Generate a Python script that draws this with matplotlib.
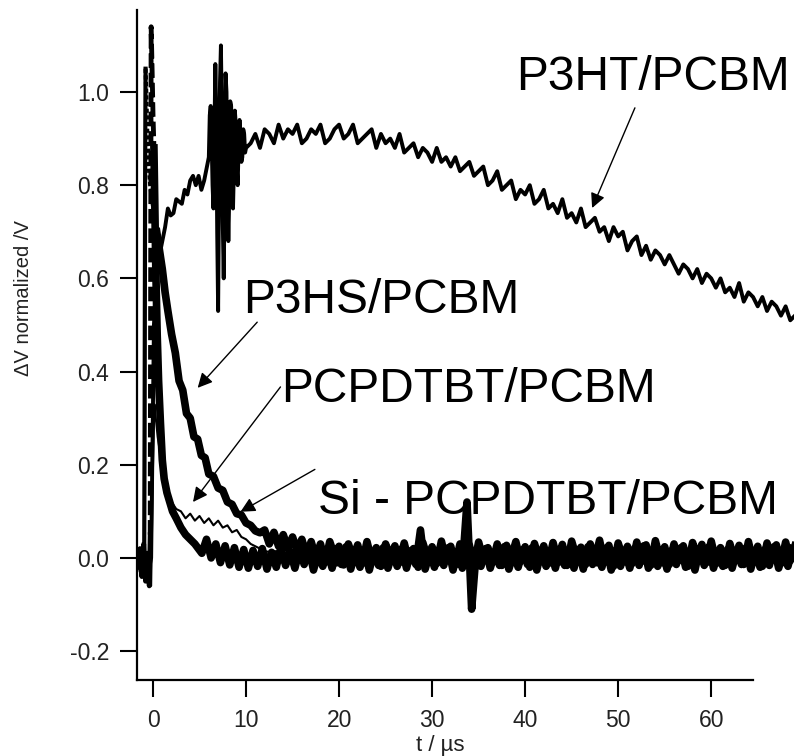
import numpy as np
import matplotlib
matplotlib.use("Agg")
import matplotlib.pyplot as plt

plt.rcParams['font.family'] = ['Liberation Sans', 'DejaVu Sans']

# ---- P3HT/PCBM (solid) ----
t_p3ht_head = [-1.6, -1.0, -0.5, -0.2, 0.1, 0.4, 0.6, 0.8, 1.0, 1.3, 1.6, 1.9, 2.2, 2.5,
               2.8, 3.1, 3.4, 3.7, 4.0, 4.3, 4.6, 4.9, 5.2, 5.5, 5.8]
v_p3ht_head = [0.00, 0.02, -0.03, 0.00, 0.50, 0.62, 0.65, 0.66, 0.68, 0.71, 0.75, 0.735, 0.74, 0.77,
               0.765, 0.76, 0.79, 0.78, 0.81, 0.82, 0.80, 0.82, 0.79, 0.81, 0.84]
# ringing, 6.0 .. 10.0 us in 0.1 steps
v_p3ht_ring = [0.86, 0.95, 0.97, 0.90, 0.80, 0.75, 0.90, 1.06, 0.95, 0.70,
               0.53, 0.80, 1.02, 1.10, 0.95, 0.72, 0.60, 0.78, 1.04, 1.00,
               0.80, 0.68, 0.78, 0.98, 0.97, 0.82, 0.75, 0.84, 0.96, 0.93,
               0.84, 0.80, 0.88, 0.94, 0.90, 0.85, 0.86, 0.92, 0.91, 0.87, 0.88]
# 10.5 .. 69.0 us in 0.5 steps
v_p3ht_tail = [0.89, 0.91, 0.88, 0.92, 0.91, 0.89, 0.93, 0.90, 0.92, 0.91,
               0.93, 0.89, 0.90, 0.92, 0.91, 0.93, 0.89, 0.90, 0.92, 0.93,
               0.90, 0.91, 0.93, 0.89, 0.90, 0.91, 0.92, 0.88, 0.91, 0.89,
               0.90, 0.88, 0.91, 0.87, 0.88, 0.89, 0.86, 0.88, 0.87, 0.85,
               0.88, 0.85, 0.86, 0.84, 0.86, 0.83, 0.84, 0.85, 0.82, 0.83,
               0.84, 0.80, 0.81, 0.83, 0.79, 0.80, 0.81, 0.77, 0.79, 0.78,
               0.80, 0.76, 0.77, 0.79, 0.75, 0.76, 0.74, 0.77, 0.73, 0.74,
               0.72, 0.75, 0.71, 0.72, 0.73, 0.70, 0.71, 0.68, 0.71, 0.69,
               0.70, 0.66, 0.68, 0.69, 0.65, 0.67, 0.64, 0.66, 0.65, 0.63,
               0.65, 0.63, 0.61, 0.63, 0.62, 0.60, 0.62, 0.59, 0.61, 0.60,
               0.58, 0.60, 0.57, 0.58, 0.56, 0.59, 0.55, 0.57, 0.56, 0.54,
               0.56, 0.53, 0.55, 0.54, 0.52, 0.54, 0.51, 0.52]

# ---- P3HS/PCBM (dotted peak) ----
t_p3hs_head = [-1.6, -1.3, -1.1, -0.95, -0.9, -0.85, -0.8, -0.7, -0.6, -0.45, -0.3, -0.1, 0.1,
               0.4, 0.7, 1.0, 1.3, 1.6, 2.0, 2.4, 2.8, 3.2, 3.6, 4.0, 4.4, 4.8, 5.2, 5.6,
               6.0, 6.5, 7.0, 7.5, 8.0, 8.5, 9.0, 9.5, 10.0, 10.5, 11.0, 11.5]
v_p3hs_head = [0.00, -0.03, 0.02, -0.02, 0.30, 0.80, 1.05, 0.98, 0.90, 0.84, 0.80, 0.77, 0.74,
               0.70, 0.66, 0.62, 0.57, 0.53, 0.48, 0.44, 0.38, 0.36, 0.31, 0.30, 0.26, 0.255,
               0.22, 0.215, 0.18, 0.175, 0.15, 0.145, 0.12, 0.115, 0.095, 0.092, 0.075, 0.07,
               0.058, 0.054]
# 12.0 .. 69.0 us in 0.5 steps
v_p3hs_tail = [0.060, 0.030, 0.055, 0.025, 0.050, 0.020, 0.045, 0.015, 0.040, 0.005,
               0.035, 0.000, 0.030, -0.010, 0.035, 0.005, 0.025, -0.015, 0.030, 0.000,
               0.028, -0.012, 0.035, -0.005, 0.022, -0.018, 0.030, 0.002, 0.026, -0.010,
               0.032, -0.008, 0.020, -0.020, 0.033, 0.000, 0.024, -0.012, 0.036, -0.006,
               0.025, -0.015, 0.030, 0.004, 0.028, -0.018, 0.034, -0.004, 0.022, -0.010,
               0.030, -0.016, 0.027, 0.000, 0.035, -0.008, 0.024, -0.020, 0.031, -0.002,
               0.026, -0.012, 0.033, -0.006, 0.029, -0.016, 0.036, 0.002, 0.023, -0.014,
               0.030, -0.004, 0.038, -0.010, 0.027, -0.018, 0.032, 0.000, 0.025, -0.012,
               0.034, -0.008, 0.028, -0.016, 0.037, -0.002, 0.024, -0.014, 0.030, -0.006,
               0.026, -0.018, 0.033, 0.002, 0.029, -0.010, 0.036, -0.006, 0.022, -0.016,
               0.031, -0.004, 0.027, -0.014, 0.035, -0.008, 0.025, -0.018, 0.032, 0.000,
               0.028, -0.012, 0.034, -0.006, 0.026]

# ---- PCPDTBT/PCBM (dashed peak) ----
t_pcp_head = [-1.6, -1.4, -1.2, -1.0, -0.8, -0.6, -0.4, -0.3, -0.2, -0.1, 0.0, 0.1, 0.2, 0.3,
              0.45, 0.6, 0.8, 1.0, 1.2, 1.5, 1.8, 2.1, 2.5, 3.0, 3.5, 4.0, 4.5]
v_pcp_head = [-0.02, 0.02, -0.04, 0.03, -0.05, 0.01, -0.06, 0.05, 1.14, 1.05, 0.95, 0.88, 0.75,
              0.62, 0.48, 0.38, 0.29, 0.21, 0.17, 0.14, 0.12, 0.10, 0.085, 0.065, 0.05, 0.04, 0.03]
# 5.25 .. 68.75 us in 0.5 steps
v_pcp_tail = [0.010, 0.040, 0.000, 0.030, -0.010, 0.026, -0.015, 0.022, -0.020, 0.018,
              -0.022, 0.016, -0.018, 0.020, -0.024, 0.012, -0.020, 0.022, -0.016, 0.014,
              -0.022, 0.018, -0.014, 0.022, -0.026, 0.010, -0.018, 0.016, -0.022, 0.020,
              -0.014, 0.024, -0.024, 0.012, -0.020, 0.018, -0.026, 0.014, -0.016, 0.022,
              -0.022, 0.012, -0.018, 0.020, -0.022, 0.016, -0.014, 0.060, -0.024, 0.012,
              -0.020, 0.018, -0.016, 0.022, -0.026, 0.014, -0.022, 0.120, -0.110, 0.016,
              -0.018, 0.020, -0.022, 0.012, -0.016, 0.024, -0.024, 0.010, -0.020, 0.018,
              -0.014, 0.022, -0.026, 0.016, -0.018, 0.012, -0.022, 0.020, -0.016, 0.014,
              -0.022, 0.018, -0.024, 0.024, -0.014, 0.010, -0.020, 0.022, -0.026, 0.016,
              -0.018, 0.014, -0.022, 0.020, -0.016, 0.026, -0.022, 0.012, -0.018, 0.018,
              -0.024, 0.016, -0.014, 0.022, -0.020, 0.010, -0.026, 0.020, -0.016, 0.024,
              -0.022, 0.012, -0.018, 0.018, -0.022, 0.016, -0.014, 0.022, -0.024, 0.014,
              -0.020, 0.018, -0.016, 0.024, -0.022, 0.012, -0.018, 0.020]

# ---- Si-PCPDTBT/PCBM (thin) ----
t_si = [-1.6, -1.3, -1.0, -0.7, -0.4, -0.2, 0.0, 0.15, 0.3, 0.5, 0.8, 1.1, 1.5, 2.0, 2.5, 3.0,
        3.5, 4.0, 4.5, 5.0, 5.5, 6.0, 6.5, 7.0, 7.5, 8.0, 8.5, 9.0, 9.5, 10.0, 10.5, 11.0,
        12.0, 13.0]
v_si = [0.01, -0.04, 0.02, -0.03, 0.01, -0.06, 0.20, 0.33, 0.30, 0.26, 0.22, 0.18, 0.15, 0.12,
        0.105, 0.10, 0.085, 0.095, 0.08, 0.09, 0.075, 0.085, 0.07, 0.08, 0.065, 0.07, 0.055,
        0.06, 0.045, 0.04, 0.03, 0.025, 0.015, 0.01]
# 13.75 .. 68.75 us in 0.5 steps
v_si_tail = [0.010, -0.005, 0.015, 0.000, 0.008, -0.010, 0.012, 0.004, -0.006, 0.016,
             -0.002, 0.010, -0.012, 0.006, 0.014, -0.004, 0.002, 0.018, -0.008, 0.008,
             0.012, -0.010, 0.004, 0.016, -0.006, 0.000, 0.014, -0.012, 0.010, 0.006,
             -0.004, 0.018, -0.008, 0.002, 0.012, -0.010, 0.016, 0.004, -0.006, 0.010,
             0.000, 0.014, -0.012, 0.008, 0.020, -0.004, 0.006, -0.010, 0.012, 0.002,
             0.016, -0.008, 0.004, 0.010, -0.012, 0.014, 0.000, -0.006, 0.018, 0.006,
             -0.010, 0.012, 0.002, -0.004, 0.016, -0.008, 0.008, 0.014, -0.012, 0.004,
             0.010, -0.006, 0.018, 0.000, -0.010, 0.012, 0.006, -0.004, 0.014, -0.008,
             0.002, 0.016, -0.012, 0.010, 0.004, -0.006, 0.012, 0.000, 0.018, -0.010,
             0.006, 0.014, -0.004, 0.008, -0.012, 0.016, 0.002, -0.008, 0.010, 0.004,
             -0.006, 0.014, 0.000, 0.012, -0.010, 0.018, 0.006, -0.004, 0.010, -0.008,
             0.012]

labels = ["P3HT/PCBM", "P3HS/PCBM", "PCPDTBT/PCBM", "Si - PCPDTBT/PCBM"]
label_pos = [(39.0, 1.004), (9.7, 0.526), (13.8, 0.335), (17.7, 0.094)]
arrow_from = [(51.8, 0.966), (11.2, 0.506), (13.7, 0.367), (17.4, 0.19)]
arrow_to = [(47.2, 0.751), (4.8, 0.365), (4.3, 0.12), (9.4, 0.099)]

t_p3ht = np.concatenate([t_p3ht_head, np.linspace(6.0, 10.0, len(v_p3ht_ring)),
                         np.linspace(10.5, 69.0, len(v_p3ht_tail))])
v_p3ht = np.concatenate([v_p3ht_head, v_p3ht_ring, v_p3ht_tail])
t_p3hs = np.concatenate([t_p3hs_head, np.linspace(12.0, 69.0, len(v_p3hs_tail))])
v_p3hs = np.concatenate([v_p3hs_head, v_p3hs_tail])
t_pcp = np.concatenate([t_pcp_head, np.linspace(5.25, 68.75, len(v_pcp_tail))])
v_pcp = np.concatenate([v_pcp_head, v_pcp_tail])
t_si_tail = np.concatenate([[13.0], np.linspace(13.75, 68.75, len(v_si_tail))])
v_si_tail2 = np.concatenate([[0.01], v_si_tail])

fig = plt.figure(figsize=(7.94, 7.56), dpi=100)
ax = fig.add_axes([137 / 794, 76 / 756, 657 / 794, 670 / 756])

# PCPDTBT: dashed on the fast spike, thick solid elsewhere
pk = (t_pcp >= -0.3) & (t_pcp <= 0.1)
ax.plot(t_pcp[t_pcp <= -0.3], v_pcp[t_pcp <= -0.3], color='black', lw=3.5)
ax.plot(t_pcp[t_pcp >= 0.1], v_pcp[t_pcp >= 0.1], color='black', lw=5.5)
ax.plot(t_pcp[pk], v_pcp[pk], color='black', lw=3.5, ls=(0, (3, 1)))

# P3HS: dotted on the peak, thick solid decay
ax.plot(t_p3hs[t_p3hs <= -0.8], v_p3hs[t_p3hs <= -0.8], color='black', lw=3.0)
ax.plot(t_p3hs[t_p3hs >= -0.8], v_p3hs[t_p3hs >= -0.8], color='black', lw=3.0,
        ls=(0, (1, 0.6)))
ax.plot(t_p3hs[t_p3hs >= 0.4], v_p3hs[t_p3hs >= 0.4], color='black', lw=5.5)

# Si-PCPDTBT: thin early part, merges into the noise band
ax.plot(t_si, v_si, color='black', lw=1.5)
ax.plot(t_si_tail, v_si_tail2, color='black', lw=4.5)

ax.plot(t_p3ht, v_p3ht, color='black', lw=2.8)

for lab, pos, a0, a1 in zip(labels, label_pos, arrow_from, arrow_to):
    ax.text(pos[0], pos[1], lab, fontsize=34.5, ha='left', va='baseline')
    ax.annotate('', xy=a1, xytext=a0,
                arrowprops=dict(arrowstyle='-|>', color='black', lw=1.0,
                                mutation_scale=22, shrinkA=0, shrinkB=0))

ax.set_xlim(-1.72, 68.9)
ax.set_ylim(-0.262, 1.176)
ax.spines['top'].set_visible(False)
ax.spines['right'].set_visible(False)
ax.spines['left'].set_linewidth(1.6)
ax.spines['bottom'].set_linewidth(1.6)
ax.spines['bottom'].set_bounds(-1.72, 64.5)
ax.set_xticks([0, 10, 20, 30, 40, 50, 60])
ax.set_yticks([-0.2, 0.0, 0.2, 0.4, 0.6, 0.8, 1.0])
ax.set_yticklabels(['-0.2', '0.0', '0.2', '0.4', '0.6', '0.8', '1.0'])
ax.tick_params(axis='both', direction='out', length=12, width=1.5, labelsize=16.5,
               labelcolor='#222222')
ax.tick_params(axis='x', pad=9)
ax.tick_params(axis='y', pad=8)

ax.set_xlabel('t / µs', fontsize=16, color='#222222')
ax.set_ylabel('ΔV normalized /V', fontsize=14.5, color='#222222')
ax.xaxis.set_label_coords(0.461, -0.082)
ax.yaxis.set_label_coords(-0.158, 0.570)

fig.savefig('out.png', dpi=100)
